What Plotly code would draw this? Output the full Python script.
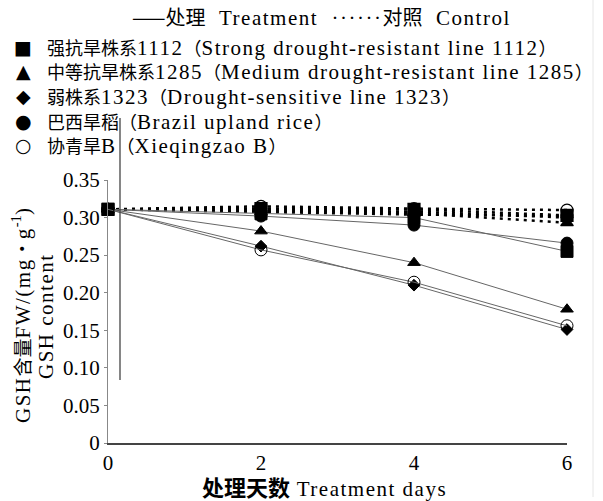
import plotly.graph_objects as go

days = [0, 2, 4, 6]
x_ticks = [0, 2, 4, 6]
x_tick_text = ["0", "2", "4", "6"]
y_ticks = [0, 0.05, 0.10, 0.15, 0.20, 0.25, 0.30, 0.35]
y_tick_text = ["0", "0.05", "0.10", "0.15", "0.20", "0.25", "0.30", "0.35"]

lines = ["1112", "1285", "1323", "brazil", "xqz"]
labels = {
    "1112": "强抗旱株系1112（Strong drought-resistant line 1112）",
    "1285": "中等抗旱株系1285（Medium drought-resistant line 1285）",
    "1323": "弱株系1323（Drought-sensitive line 1323）",
    "brazil": "巴西旱稻（Brazil upland rice）",
    "xqz": "协青旱B（Xieqingzao B）",
}
legend_glyphs = {"1112": "■", "1285": "▲", "1323": "◆", "brazil": "●", "xqz": "○"}

treatment = {
    "1112":   [0.311, 0.305, 0.300, 0.255],
    "1285":   [0.311, 0.282, 0.240, 0.178],
    "1323":   [0.311, 0.262, 0.210, 0.151],
    "brazil": [0.311, 0.302, 0.290, 0.266],
    "xqz":    [0.311, 0.257, 0.214, 0.156],
}
control = {
    "1112":   [0.311, 0.312, 0.311, 0.303],
    "1285":   [0.311, 0.310, 0.306, 0.293],
    "1323":   [0.311, 0.309, 0.308, 0.300],
    "brazil": [0.311, 0.307, 0.304, 0.302],
    "xqz":    [0.311, 0.315, 0.312, 0.310],
}

symbols = {"1112": "square", "1285": "triangle-up", "1323": "diamond",
           "brazil": "circle", "xqz": "circle-open"}
sizes = {"1112": 12, "1285": 11, "1323": 9, "brazil": 12, "xqz": 12}

FONT = "Liberation Serif"
CJK = "Noto Sans CJK SC"


def rich(s, cjk_size, spacing=1.5, bold_cjk=False):
    runs = []
    for ch in s:
        c = ord(ch) >= 0x2000
        if runs and runs[-1][0] == c:
            runs[-1][1] += ch
        else:
            runs.append([c, ch])
    out = []
    for c, t in runs:
        t = t.replace("  ", "\u00a0\u00a0")
        if c:
            w = "font-weight:bold;" if bold_cjk else ""
            out.append(f"<span style='font-family:{CJK};font-size:{cjk_size}px;{w}'>{t}</span>")
        else:
            out.append(f"<span style='letter-spacing:{spacing}px'>{t}</span>")
    return "".join(out)


fig = go.Figure()

for k in lines:
    fig.add_trace(go.Scatter(
        x=days, y=control[k], mode="lines+markers", showlegend=False,
        line=dict(color="black", width=2.5, dash="3px,5px"),
        marker=dict(symbol=symbols[k], size=sizes[k], color="black",
                    line=dict(color="black", width=1.2)),
        cliponaxis=False,
    ))
for k in lines:
    fig.add_trace(go.Scatter(
        x=days, y=treatment[k], mode="lines+markers", showlegend=False,
        line=dict(color="#666666", width=1),
        marker=dict(symbol=symbols[k], size=sizes[k], color="black",
                    line=dict(color="#333333" if k == "xqz" else "black", width=1)),
        cliponaxis=False,
    ))

L, R, T, B = 108, 567, 180, 443


def px(x):
    return (x - L) / (R - L)


def py(y):
    return (B - y) / (B - T)


ann = []
ann.append(dict(x=px(130), y=py(17), xref="paper", yref="paper", showarrow=False,
                text=rich("——处理  Treatment  ······对照  Control", 20),
                font=dict(family=FONT, size=21, color="black"), xanchor="left", yanchor="middle"))
rows_y = [47, 71, 96, 121, 145]
for k, yy in zip(lines, rows_y):
    ann.append(dict(x=px(23), y=py(yy), xref="paper", yref="paper", showarrow=False,
                    text=legend_glyphs[k], font=dict(family="DejaVu Sans", size=19, color="black"),
                    xanchor="center", yanchor="middle"))
    ann.append(dict(x=px(45), y=py(yy), xref="paper", yref="paper", showarrow=False,
                    text=rich(labels[k], 18),
                    font=dict(family=FONT, size=21, color="black"),
                    xanchor="left", yanchor="middle"))
ann.append(dict(x=px(200), y=py(486), xref="paper", yref="paper", showarrow=False,
                text=rich("处理天数 Treatment days", 22, bold_cjk=True),
                font=dict(family=FONT, size=21, color="black"), xanchor="left", yanchor="middle"))
ann.append(dict(x=px(21), y=py(315), xref="paper", yref="paper", showarrow=False, textangle=-90,
                text=rich("GSH含量FW/(mg・g", 19) + "<sup>-1</sup>" + rich(")", 19),
                font=dict(family=FONT, size=21, color="black"), xanchor="center", yanchor="middle"))
ann.append(dict(x=px(46), y=py(316), xref="paper", yref="paper", showarrow=False, textangle=-90,
                text=rich("GSH content", 19),
                font=dict(family=FONT, size=21, color="black"), xanchor="center", yanchor="middle"))

shapes = [
    dict(type="line", xref="paper", yref="paper", x0=px(120), x1=px(120), y0=py(118), y1=py(380),
         line=dict(color="#444444", width=1.3)),
    dict(type="line", xref="paper", yref="paper", x0=px(593), x1=px(593), y0=py(0), y1=py(497),
         line=dict(color="#e6e6e6", width=1)),
]

fig.update_layout(
    width=603, height=501,
    margin=dict(l=L, r=603 - R, t=T, b=501 - B),
    paper_bgcolor="white", plot_bgcolor="white",
    font=dict(family=FONT, size=21, color="black"),
    annotations=ann, shapes=shapes,
    xaxis=dict(range=[0, 6], tickvals=x_ticks, ticktext=x_tick_text, showgrid=False,
               zeroline=False, showline=True, linecolor="#444444", linewidth=2,
               ticks="", tickfont=dict(family=FONT, size=21)),
    yaxis=dict(range=[0, 0.35], tickvals=y_ticks, ticktext=y_tick_text, showgrid=False,
               zeroline=False, showline=True, linecolor="#888888", linewidth=1,
               ticks="outside", ticklen=3, tickcolor="#888888",
               tickfont=dict(family=FONT, size=21)),
)

fig.write_html("out.html")
